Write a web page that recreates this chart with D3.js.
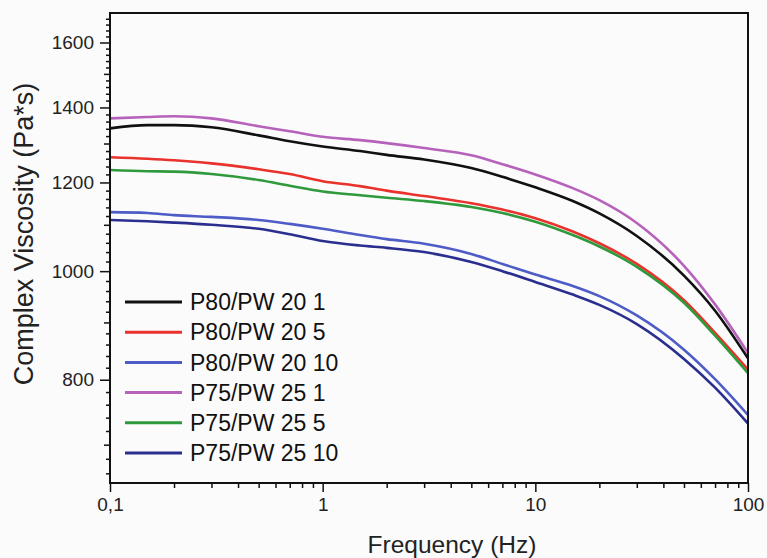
<!DOCTYPE html>
<html>
<head>
<meta charset="utf-8">
<script src="https://cdn.jsdelivr.net/npm/d3@7"></script>
<style>
  body { margin: 0; background: #fbfbfb; }
  svg { display: block; font-family: "Liberation Sans", Arial, sans-serif; }
</style>
</head>
<body>
<svg id="chart" width="767" height="558"></svg>
<script>
// frequencies (Hz) where the curves were read
const frequency = [0.1, 0.15, 0.2, 0.3, 0.5, 0.7, 1, 1.5, 2, 3, 5, 7, 10, 15, 20, 30, 50, 70, 100];

// complex viscosity (Pa*s)
const p80pw20_1 = [1341, 1350, 1350, 1344, 1322, 1306, 1292, 1280, 1270, 1258, 1236, 1214, 1188, 1155, 1126, 1075, 991, 922, 836];
const p80pw20_5 = [1264, 1260, 1256, 1248, 1233, 1221, 1203, 1191, 1180, 1167, 1150, 1135, 1115, 1085, 1059, 1015, 942, 881, 817];
const p80pw20_10 = [1129, 1127, 1122, 1118, 1111, 1102, 1091, 1077, 1068, 1058, 1036, 1015, 993, 970, 950, 913, 851, 801, 744];
const p75pw25_1 = [1369, 1373, 1375, 1369, 1347, 1333, 1318, 1309, 1301, 1288, 1269, 1246, 1220, 1186, 1157, 1104, 1011, 934, 845];
const p75pw25_5 = [1231, 1228, 1227, 1221, 1206, 1192, 1178, 1169, 1163, 1155, 1141, 1127, 1107, 1077, 1052, 1009, 937, 876, 811];
const p75pw25_10 = [1111, 1108, 1105, 1100, 1091, 1079, 1064, 1054, 1049, 1040, 1019, 1000, 978, 953, 933, 897, 835, 787, 731];

const seriesNames = ['P80/PW 20 1', 'P80/PW 20 5', 'P80/PW 20 10', 'P75/PW 25 1', 'P75/PW 25 5', 'P75/PW 25 10'];
const seriesValues = [p80pw20_1, p80pw20_5, p80pw20_10, p75pw25_1, p75pw25_5, p75pw25_10];
const seriesColors = ['#111111', '#e8322b', '#4d5cc6', '#b662bb', '#2f9a3c', '#2a2f8f'];

const xTicks = [0.1, 1, 10, 100];
const xTickLabels = ['0,1', '1', '10', '100'];
const yTicks = [800, 1000, 1200, 1400, 1600];

const svg = d3.select('#chart');
const margin = { left: 110, top: 13, right: 19, bottom: 75 };
const width = 767 - margin.left - margin.right;
const height = 558 - margin.top - margin.bottom;

const chart = svg.append('g')
  .attr('transform', `translate(${margin.left}, ${margin.top})`);

const xRange = d3.scaleLog()
  .domain([0.1, 100])
  .range([0, width]);

const yRange = d3.scaleLog()
  .domain([647, 1700])
  .range([height, 0]);

// minor ticks
const xMinor = [];
[0.1, 1, 10].forEach((dec) => {
  for (let i = 2; i <= 9; i++) xMinor.push(dec * i);
});
const yMinor = d3.range(660, 1700, 20).filter((v) => v % 200 !== 0);

chart.append('g')
  .attr('transform', `translate(0, ${height})`)
  .call(d3.axisBottom(xRange).tickValues(xMinor).tickSize(5).tickFormat(''))
  .call((g) => g.select('.domain').remove());

chart.append('g')
  .attr('transform', `translate(0, ${height})`)
  .call(d3.axisBottom(xRange).tickValues(xTicks).tickSize(9).tickPadding(6)
    .tickFormat((d, i) => xTickLabels[i]))
  .call((g) => g.select('.domain').remove())
  .call((g) => g.selectAll('text').style('font-size', '19px').attr('fill', '#222'));

chart.append('g')
  .call(d3.axisLeft(yRange).tickValues(yMinor).tickSize(4).tickFormat(''))
  .call((g) => g.select('.domain').remove())
  .call((g) => g.selectAll('.tick line').attr('x2', (d) => (d % 100 === 0 ? -6 : -4)));

chart.append('g')
  .call(d3.axisLeft(yRange).tickValues(yTicks).tickSize(10).tickPadding(6)
    .tickFormat(d3.format('d')))
  .call((g) => g.select('.domain').remove())
  .call((g) => g.selectAll('text').style('font-size', '19px').attr('fill', '#222'));

chart.selectAll('.tick line')
  .attr('stroke', '#111')
  .attr('stroke-width', 1.5);

// curves
const line = d3.line()
  .x((d) => xRange(d.f))
  .y((d) => yRange(d.v))
  .curve(d3.curveMonotoneX);

const series = seriesValues.map((vals, i) => ({
  name: seriesNames[i],
  color: seriesColors[i],
  points: vals.map((v, j) => ({ f: frequency[j], v: v }))
}));

chart.append('g')
  .selectAll('path')
  .data(series)
  .enter()
  .append('path')
  .style('fill', 'none')
  .style('stroke', (d) => d.color)
  .style('stroke-width', 2.6)
  .attr('d', (d) => line(d.points));

// frame
chart.append('rect')
  .attr('width', width)
  .attr('height', height)
  .style('fill', 'none')
  .style('stroke', '#111')
  .style('stroke-width', 2);

// legend
const legend = chart.append('g')
  .attr('transform', 'translate(15, 289)');

const legendItem = legend.selectAll('g')
  .data(series)
  .enter()
  .append('g')
  .attr('transform', (d, i) => `translate(0, ${i * 30.2})`);

legendItem.append('line')
  .attr('x1', 0)
  .attr('x2', 57)
  .style('stroke', (d) => d.color)
  .style('stroke-width', 3);

legendItem.append('text')
  .attr('x', 65)
  .attr('dy', '0.36em')
  .style('font-size', '23px')
  .attr('fill', '#111')
  .text((d) => d.name);

// axis titles
svg.append('text')
  .attr('x', 452)
  .attr('y', 553)
  .attr('text-anchor', 'middle')
  .style('font-size', '24.5px')
  .attr('fill', '#222')
  .text('Frequency (Hz)');

svg.append('text')
  .attr('transform', 'translate(33, 234) rotate(-90)')
  .attr('text-anchor', 'middle')
  .style('font-size', '27px')
  .attr('fill', '#222')
  .text('Complex Viscosity (Pa*s)');
</script>
</body>
</html>
